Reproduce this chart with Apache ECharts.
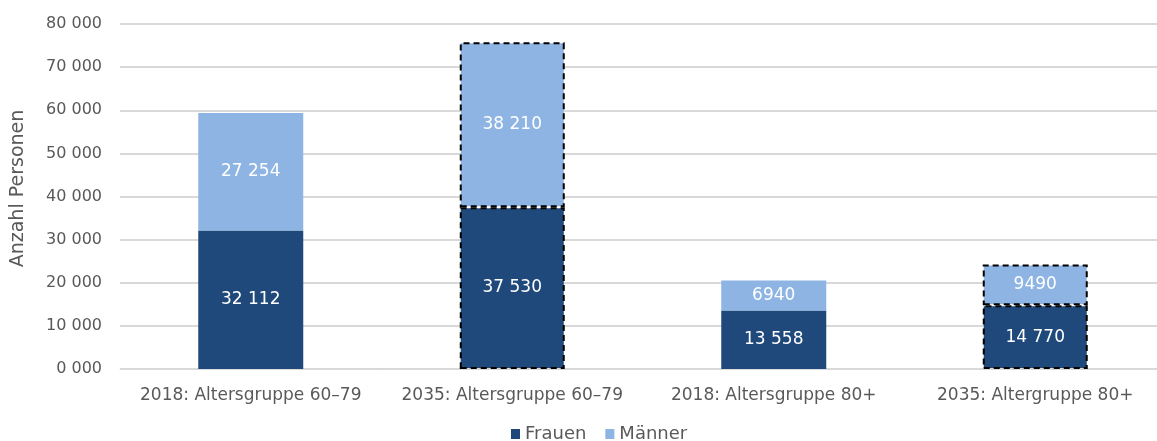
<!DOCTYPE html>
<html>
<head>
<meta charset="utf-8">
<script src="https://cdn.jsdelivr.net/npm/echarts@6/dist/echarts.min.js"></script>
<style>
  html, body { margin: 0; padding: 0; background: #fff; overflow: hidden; }
  /* plot area runs slightly past the right edge of the window, as in the reference */
  #chart { width: 1166px; height: 441px; }
</style>
</head>
<body>
<div id="chart"></div>
<script>
var categories = ['2018: Altersgruppe 60–79', '2035: Altersgruppe 60–79', '2018: Altersgruppe 80+', '2035: Altergruppe 80+'];
var frauen = [32112, 37530, 13558, 14770];
var maenner = [27254, 38210, 6940, 9490];
// 2035 bars are forecasts, drawn with a dashed outline
var isForecast = [false, true, false, true];

var fmtNum = function (v) {
    var s = String(v);
    if (v >= 10000) s = s.slice(0, s.length - 3) + ' ' + s.slice(-3);
    return s;
};

var toItems = function (values) {
    return values.map(function (v, i) {
        var item = { value: v };
        if (isForecast[i]) {
            item.itemStyle = { borderColor: '#000', borderWidth: 2, borderType: [6, 4] };
        }
        return item;
    });
};

var font = 'DejaVu Sans, sans-serif';

var option = {
    animation: false,
    textStyle: { fontFamily: font },
    grid: { left: 120, top: 24, right: 0, bottom: 72, containLabel: false },
    legend: {
        top: 420,
        left: 506,
        icon: 'rect',
        itemWidth: 9,
        itemHeight: 10,
        itemGap: 19,
        textStyle: { fontSize: 18, color: '#595959', fontFamily: font },
        data: ['Frauen', 'Männer']
    },
    xAxis: {
        type: 'category',
        data: categories,
        axisLine: { lineStyle: { color: '#d9d9d9', width: 1 } },
        axisTick: { show: false },
        axisLabel: { interval: 0, fontSize: 17, color: '#595959', margin: 18, fontFamily: font }
    },
    yAxis: {
        type: 'value',
        min: 0,
        max: 80000,
        interval: 10000,
        name: 'Anzahl Personen',
        nameLocation: 'middle',
        nameGap: 92,
        nameRotate: 90,
        nameTextStyle: { fontSize: 19, color: '#595959', fontFamily: font, padding: [0, 0, 0, 16] },
        axisLine: { show: false },
        axisTick: { show: false },
        splitLine: { lineStyle: { color: '#d9d9d9', width: 2 } },
        axisLabel: {
            fontSize: 16,
            color: '#595959',
            margin: 18,
            fontFamily: font,
            formatter: function (v) { return Math.floor(v / 1000) + ' 000'; }
        }
    },
    series: [
        {
            name: 'Frauen',
            type: 'bar',
            stack: 'total',
            barWidth: 105,
            itemStyle: { color: '#1f487b' },
            label: {
                show: true,
                position: 'inside',
                color: '#fff',
                fontSize: 17,
                fontFamily: font,
                formatter: function (p) { return fmtNum(p.value); }
            },
            data: toItems(frauen)
        },
        {
            name: 'Männer',
            type: 'bar',
            stack: 'total',
            barWidth: 105,
            itemStyle: { color: '#8eb4e3' },
            label: {
                show: true,
                position: 'inside',
                color: '#fff',
                fontSize: 17,
                fontFamily: font,
                formatter: function (p) { return fmtNum(p.value); }
            },
            data: toItems(maenner)
        }
    ]
};

var myChart = echarts.init(document.getElementById('chart'));
myChart.setOption(option);
</script>
</body>
</html>
